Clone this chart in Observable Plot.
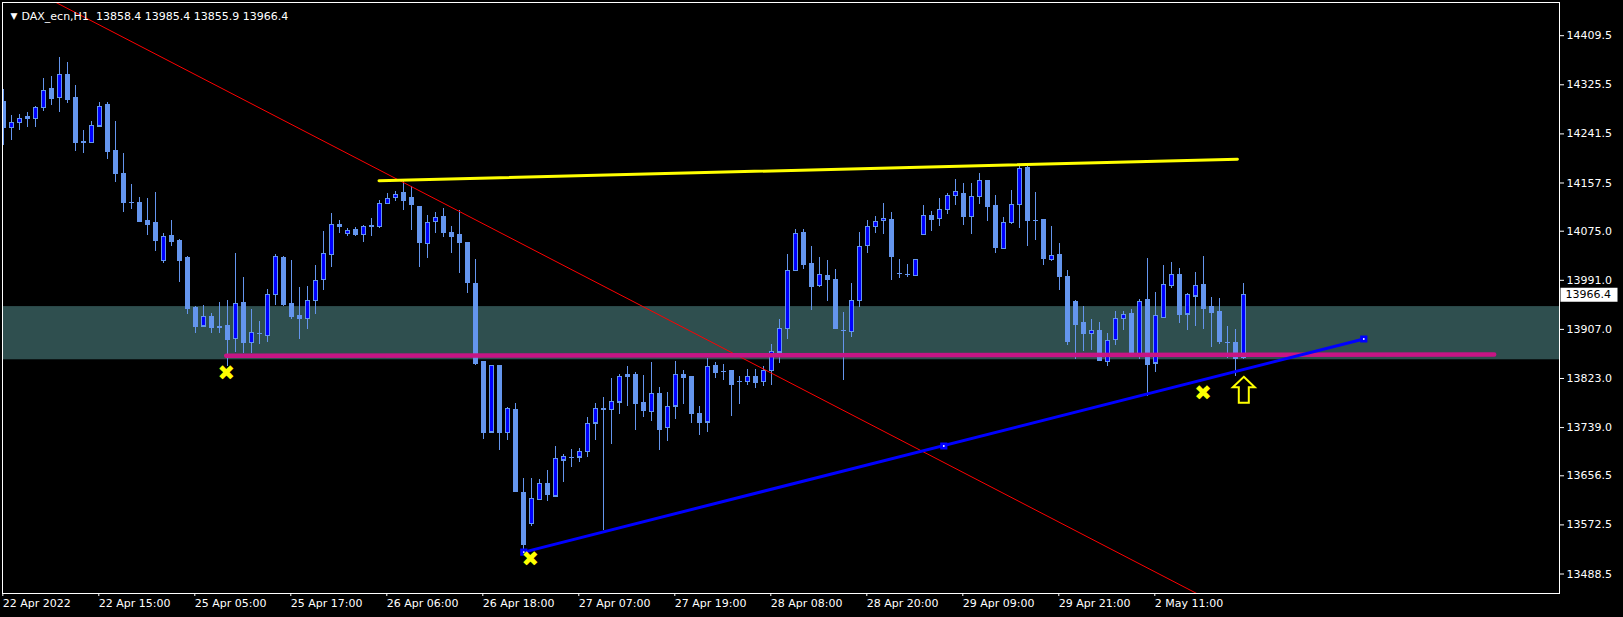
<!DOCTYPE html>
<html>
<head>
<meta charset="utf-8">
<script src="https://cdn.jsdelivr.net/npm/d3@7"></script>
<script src="https://cdn.jsdelivr.net/npm/@observablehq/plot@0.6"></script>
<style>
  html, body { margin: 0; padding: 0; background: #000; }
  #chart svg { display: block; }
</style>
</head>
<body>
<div id="chart"></div>
<script>
// ---- Data (DAX_ecn, H1) ----
const symbolName = "DAX_ecn,H1";
const open = [14296.2,14251.7,14260.2,14269.9,14267.1,14286.5,14317.8,14303,14341.8,14302.4,
  14227,14226,14254.5,14290.5,14211.8,14172.5,14123.4,14122.9,14092.1,14088.7,
  14024.8,14066.4,14057.9,14028.8,13943.3,13912,13928,13910.8,13912.5,13890.9,
  13951.9,13884.1,13899.4,13896,13966.7,14030,13949.6,13929.7,13925.1,13956.4,
  13992.3,14034.5,14086.4,14071,14076.7,14068.7,14083,14082.4,14121.7,14132,
  14140,14131.4,14117.2,14053.3,14091,14098.9,14072.7,14068.2,14054.5,13985.5,
  13851,13731.3,13844.1,13730.1,13768.9,13627,13574.5,13615.6,13642.4,13621.3,
  13682.8,13688,13688,13697.7,13746.1,13770,13769.5,13782,13828.2,13828.8,
  13780.3,13766,13795.7,13738.7,13775.2,13828.2,13825.3,13762,13747.8,13844.1,
  13834.4,13835,13817.4,13817.4,13825.3,13817.4,13836.2,13867.5,13908.5,14007.7,
  14071.6,14018.6,13982.1,13999.2,13991.2,13905.7,13903.4,13956.4,14050.5,14083,
  14093.2,14095,14002,14000.3,13999.2,14069.3,14101.8,14096.6,14112,14136,
  14138.3,14099.5,14134.3,14160.5,14117.7,14044.8,14089.8,14120.6,14183.9,14092.7,
  14093.8,14026.5,14033.9,13996.3,13953.6,13917.7,13899.4,13904,13851.6,13889.7,
  13925.6,13933.1,13863,13957,13848.7,13926.8,13982.1,13999.7,13932.5,13963.3,
  13982.7,13944.5,13936.5,13884.1,13882.9,13858.4];
const high = [14317.8,14273.3,14275,14278.5,14288.7,14336.6,14340,14372.5,14364,14324.7,
  14247.7,14263.1,14295.6,14295.6,14263.1,14208.4,14155.4,14133.1,14131.4,14141.7,
  14071.6,14093.8,14061.3,14032.2,13946.7,13948.4,13934.8,13953.6,13957,14037.4,
  13996.3,13941.6,13921,13975.8,14035.1,14032.2,14025.4,13979.2,13980.9,14016.9,
  14075,14105.8,14093.8,14079,14081.8,14085.2,14097.2,14128,14138.8,14143.4,
  14159.4,14150.8,14117.2,14102.4,14107.5,14114.3,14083.5,14109.8,14056.2,14027.1,
  13851,13845.9,13845.9,13774,13780.9,13652.6,13652.6,13650.9,13666.3,13707.3,
  13693.7,13702.2,13703.9,13755.8,13780.9,13790.6,13823.6,13830.5,13844.1,13833.9,
  13828.8,13851,13808.2,13799.7,13852.1,13836.7,13825.3,13775.7,13857.8,13851,
  13847.6,13835,13827,13839,13839,13843.6,13881.8,13924.5,14035.7,14078.4,
  14078.4,14049.3,14030.5,14025.4,14010,13936.5,13986,14073.3,14093.2,14100.6,
  14122.9,14107.5,14027.1,14018.6,14026.5,14119.4,14109.2,14131.4,14138.8,14163.9,
  14157.1,14157.1,14174.2,14162.2,14136.6,14098.9,14145.1,14188.4,14187.3,14141.7,
  14095.5,14083.5,14054.5,14008.3,13957,13946.7,13924.5,13919.4,13900.6,13938.2,
  13938.2,13941.6,13958.1,14028.8,13970.7,14016.9,14022,14011.7,13969,14005,
  14032.2,13962.1,13960.4,13912,13907.4,13985.4];
const low = [14222,14230.6,14247.7,14252.8,14251.7,14280.2,14289.3,14277.3,14292.7,14210.6,
  14207.2,14225,14253.4,14198.1,14157.6,14106.3,14112.6,14090,14068.2,14039.7,
  14019,14049.3,13986.6,13931.9,13899.4,13910,13899.4,13900.6,13843.3,13866.9,
  13865.8,13865.8,13880.6,13884.6,13947.3,13946.7,13924.5,13889.2,13906.3,13932,
  13973,14012.3,14070.4,14065.3,14065.3,14055,14065.3,14079,14121.5,14125.7,
  14109.8,14075.6,14012.3,14027.7,14070.4,14063.6,14036.2,14002,13967.8,13845.9,
  13718.8,13730.1,13700.5,13716.5,13629.3,13530.6,13569.4,13615.6,13612.2,13621.3,
  13644.6,13670.3,13680,13687.4,13716.5,13562.6,13709.6,13760.9,13774.6,13733.6,
  13755.8,13748.9,13700.5,13714.8,13753.5,13778,13745.5,13725,13730.7,13822.5,
  13819.1,13757.5,13778,13810.5,13805.4,13808.8,13811.1,13848.1,13889.2,14006,
  14008.9,13938.8,13978.1,13954.2,13906.3,13819.1,13892.6,13943.9,14036.2,14070.4,
  14068.7,13990.1,13993.5,13995.8,13999.2,14067,14073.8,14082.4,14102.9,14118.3,
  14085.3,14068.7,14120,14091,14036.2,14043.1,14085.8,14080.1,14048.2,14058.5,
  14015.7,14022.6,13973,13878.9,13855.5,13868.7,13871.5,13853.3,13843,13880.1,
  13905.7,13860,13855,13791.7,13832.7,13925.1,13976.4,13916.5,13904.6,13911.4,
  13906.3,13875.5,13881.2,13857.2,13825.9,13855.9];
const close = [14251.7,14259.7,14267.6,14267.1,14286.5,14315.5,14301.3,14341.8,14299.6,14226,
  14226.6,14255.7,14288.2,14210.7,14173,14123.4,14122.9,14090.4,14085.8,14058.5,
  14065.9,14056.8,14024.3,13942.2,13911.4,13927.4,13909.7,13910.5,13889.2,13951.3,
  13884.1,13900,13899.4,13965,14031.7,13948.4,13928,13925.1,13956.4,13990.6,
  14036.8,14086.4,14083,14076.1,14068.7,14083,14083.2,14122.3,14130.9,14137.7,
  14126.9,14120,14055,14089.8,14098.4,14072.1,14064.7,14055,13986.6,13848.1,
  13730.2,13844.1,13730.1,13770.6,13629.3,13538.1,13616.1,13642.4,13624.1,13684.5,
  13688,13688,13696.5,13744.4,13770,13770.1,13782,13824.8,13825.9,13779.7,
  13767.8,13795.7,13735.3,13773.5,13828.2,13824.2,13762.6,13747.2,13841.9,13832.7,
  13834.4,13812.2,13817.3,13824.8,13815.6,13835,13868.6,13908.5,14007.7,14071,
  14017.4,13979.8,14000.9,13991.8,13907.4,13905.7,13956.4,14048.8,14083,14091.5,
  14096.6,14031.1,14002,14000.3,14026.5,14101.8,14094.4,14112,14136,14142.8,
  14099.5,14134.3,14161.6,14116.6,14046.5,14089.8,14120.6,14182.2,14092.7,14092.6,
  14027.7,14033.4,13996.9,13885.2,13914.8,13899.4,13905.1,13853.3,13888,13925.6,
  13931.4,13863,13954.7,13846.4,13929.1,13983.8,14000.9,13931.9,13965,13982.1,
  13942.2,13935.3,13885.8,13884,13857.2,13966.4];

// time axis: bar index of each label and its text
const xTickBars = [0, 12, 24, 36, 48, 60, 72, 84, 96, 108, 120, 132, 144];
const xTickLabels = ["22 Apr 2022", "22 Apr 15:00", "25 Apr 05:00", "25 Apr 17:00", "26 Apr 06:00",
  "26 Apr 18:00", "27 Apr 07:00", "27 Apr 19:00", "28 Apr 08:00", "28 Apr 20:00",
  "29 Apr 09:00", "29 Apr 21:00", "2 May 11:00"];
// price axis tick labels
const yTicks = [14409.5, 14325.5, 14241.5, 14157.5, 14075.0, 13991.0, 13907.0, 13823.0,
  13739.0, 13656.5, 13572.5, 13488.5];

// drawn objects (bar index, price)
const zoneLow = 13855, zoneHigh = 13946;             // support rectangle
const redLine = [{i: 0, p: 14512.6}, {i: 152, p: 13434.7}];
const yellowLine = [{i: 46.9, p: 14161.3}, {i: 154.2, p: 14198.2}];
const magentaLine = [{i: 27.8, p: 13862}, {i: 186.3, p: 13864}];
const blueLine = [{i: 65, p: 13526}, {i: 117.5, p: 13707.5}, {i: 170, p: 13890.6}];
const crossMarks = [{i: 27.8, p: 13832}, {i: 65.8, p: 13513.3}, {i: 149.9, p: 13797.8}];
const arrowMark = [{i: 155, p: 13803.7}];

// ---- Build ----
const bars = open.map((o, i) => ({i, open: o, high: high[i], low: low[i], close: close[i]}));
const bulls = bars.filter(d => d.close > d.open);
const bears = bars.filter(d => d.close <= d.open);
const last = bars[bars.length - 1];
const tickLabel = new Map(xTickBars.map((b, k) => [b, xTickLabels[k]]));

const W = 1623, H = 617;
const mL = 2, mR = 64, mT = 2, mB = 24;
// 8 px per bar, bar 0 centred 1.3 px right of the frame
const barPx = 8;
const xDomain = [-1.3 / barPx, (W - mR - mL - 1.3) / barPx];
const pxPerPt = 538.3 / 921;
const yTopPrice = 13488.5 + (573.5 - mT) / pxPerPt;
const yBotPrice = 13488.5 - (H - mB - 573.5) / pxPerPt;

const CORN = "#6495ED", BLUE = "#0000FF";

const arrowSymbol = {
  draw(ctx) {
    ctx.moveTo(0, -13);
    ctx.lineTo(11, -2.5);
    ctx.lineTo(5, -2.5);
    ctx.lineTo(5, 13);
    ctx.lineTo(-5, 13);
    ctx.lineTo(-5, -2.5);
    ctx.lineTo(-11, -2.5);
    ctx.closePath();
  }
};
const priceBox = {
  draw(ctx) { ctx.rect(1, -7, 57, 14); }
};

const chart = Plot.plot({
  width: W,
  height: H,
  marginLeft: mL, marginRight: mR, marginTop: mT, marginBottom: mB,
  style: {background: "#000", color: "#fff", fontFamily: "DejaVu Sans", fontSize: "11px"},
  x: {type: "linear", domain: xDomain, axis: null, label: null},
  y: {type: "linear", domain: [yBotPrice, yTopPrice], axis: null, label: null},
  marks: [
    // support zone
    Plot.rect([{y1: zoneLow, y2: zoneHigh}], {y1: "y1", y2: "y2", fill: "#2F4F4F"}),
    // candles
    Plot.ruleX(bars, {x: "i", y1: "low", y2: "high", stroke: CORN, strokeWidth: 1, clip: true, shapeRendering: "crispEdges"}),
    Plot.ruleY(bars, {y: "open", x1: d => d.i - 0.31, x2: d => d.i + 0.31, stroke: CORN, clip: true, shapeRendering: "crispEdges"}),
    Plot.rect(bears, {x1: d => d.i - 0.25, x2: d => d.i + 0.25, y1: "close", y2: "open", fill: CORN, stroke: CORN, clip: true, shapeRendering: "crispEdges"}),
    Plot.rect(bulls, {x1: d => d.i - 0.25, x2: d => d.i + 0.25, y1: "open", y2: "close", fill: BLUE, stroke: CORN, clip: true, shapeRendering: "crispEdges"}),
    // trend lines
    Plot.line(redLine, {x: "i", y: "p", stroke: "#FF0000", strokeWidth: 1, clip: true}),
    Plot.line(yellowLine, {x: "i", y: "p", stroke: "#FFFF00", strokeWidth: 3, clip: true}),
    Plot.line(magentaLine, {x: "i", y: "p", stroke: "#C71585", strokeWidth: 4.5, clip: true}),
    Plot.line(blueLine.filter((d, k) => k !== 1), {x: "i", y: "p", stroke: BLUE, strokeWidth: 3, clip: true}),
    Plot.dot(blueLine, {x: "i", y: "p", symbol: "square", r: 3.2, fill: BLUE, stroke: BLUE}),
    Plot.dot(blueLine, {x: "i", y: "p", r: 0.9, fill: "#fff"}),
    // markers
    Plot.text(crossMarks, {x: "i", y: "p", text: () => "\u2716", fill: "#FFFF00", fontSize: 21, fontWeight: "bold"}),
    Plot.dot(arrowMark, {x: "i", y: "p", symbol: arrowSymbol, fill: "#000", stroke: "#FFFF00", strokeWidth: 2}),
    // frame and axes
    Plot.frame({stroke: "#fff"}),
    Plot.axisY(yTicks, {anchor: "right", label: null, tickSize: 4, tickPadding: 3, tickFormat: d => d.toFixed(1), fontSize: 11, textAnchor: "start"}),
    Plot.axisX(xTickBars, {anchor: "bottom", label: null, tickSize: 3, tickPadding: 3, tickFormat: d => tickLabel.get(d), fontSize: 11, textAnchor: "start", dx: -1}),
    // current price label
    Plot.dot([last.close], {y: d => d, frameAnchor: "right", symbol: priceBox, fill: "#fff", stroke: "none"}),
    Plot.text([last.close], {y: d => d, frameAnchor: "right", dx: 6, textAnchor: "start", text: d => d.toFixed(1), fill: "#000", fontSize: 11}),
    // title
    Plot.text(["\u25BC"], {frameAnchor: "top-left", dx: 8, dy: 10, text: d => d, fill: "#fff", fontSize: 9}),
    Plot.text([`${symbolName}\u00a0\u00a0${last.open.toFixed(1)} ${last.high.toFixed(1)} ${last.low.toFixed(1)} ${last.close.toFixed(1)}`],
      {frameAnchor: "top-left", dx: 19, dy: 10, text: d => d, fill: "#fff", fontSize: 11, textAnchor: "start"})
  ]
});
document.getElementById("chart").appendChild(chart);
</script>
</body>
</html>
